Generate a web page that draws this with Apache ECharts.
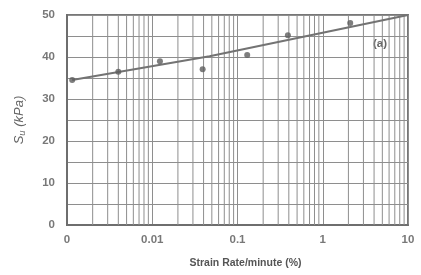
<!DOCTYPE html>
<html>
<head>
<meta charset="utf-8">
<script src="https://cdn.jsdelivr.net/npm/echarts@6/dist/echarts.min.js"></script>
<style>html,body{margin:0;padding:0;background:#fff}#c{width:421px;height:275px}</style>
</head>
<body>
<div id="c"></div>
<script>
// measured points: [strain rate (%/min), Su (kPa)]
const points = [[0.00115, 34.5], [0.004, 36.5], [0.0123, 39.0], [0.039, 37.1], [0.13, 40.5], [0.39, 45.2], [2.1, 48.1]];
// fitted trend line
const fitLine = [[0.00115, 34.5], [0.047, 40.2], [10, 50.0]];
const xTickLabels = {0.001: '0', 0.01: '0.01', 0.1: '0.1', 1: '1', 10: '10'};
const decades = [0.001, 0.01, 0.1, 1];
const minorMultipliers = [2, 3, 4, 5, 6, 7, 8, 9];
const yMin = 0, yMax = 50;

const gridSeries = [];
decades.forEach(d => {
  minorMultipliers.forEach(m => {
    const x = +(d * m).toPrecision(6);
    gridSeries.push({
      type: 'line', data: [[x, yMin], [x, yMax]], showSymbol: false, silent: true,
      lineStyle: {color: '#8e8e8e', width: 1}, z: 1, animation: false
    });
  });
});

const chart = echarts.init(document.getElementById('c'), null, {renderer: 'canvas'});
const labelFont = {color: '#787878', fontWeight: 'bold', fontSize: 11.5, fontFamily: 'Liberation Sans, Arial, sans-serif'};
chart.setOption({
  animation: false,
  grid: {left: 67, right: 13, top: 15, bottom: 50, show: true, borderColor: '#777', borderWidth: 2},
  xAxis: {
    type: 'log', logBase: 10, min: 0.001, max: 10,
    axisLine: {lineStyle: {color: '#6e6e6e', width: 2}},
    axisTick: {show: false},
    splitLine: {show: true, lineStyle: {color: '#8e8e8e', width: 1}},
    axisLabel: Object.assign({margin: 9, formatter: v => {
      for (const k in xTickLabels) { if (Math.abs(Math.log10(v) - Math.log10(+k)) < 1e-6) return xTickLabels[k]; }
      return '';
    }}, labelFont),
    name: 'Strain Rate/minute (%)', nameLocation: 'middle', nameGap: 33,
    nameTextStyle: {color: '#555', fontWeight: 'bold', fontSize: 10.5, fontFamily: 'Liberation Sans, Arial, sans-serif', padding: [0, 0, 0, 16]}
  },
  yAxis: {
    type: 'value', min: yMin, max: yMax, interval: 5,
    axisLine: {show: true, lineStyle: {color: '#6e6e6e', width: 2}},
    axisTick: {show: false},
    splitLine: {show: true, lineStyle: {color: '#8e8e8e', width: 1}},
    axisLabel: Object.assign({margin: 12, formatter: v => (v % 10 === 0 ? String(v) : '')}, labelFont),
    name: '{s|S}{u|u}{s| (kPa)}', nameLocation: 'middle', nameGap: 40, nameRotate: 90,
    nameTextStyle: {rich: {
      s: {color: '#666', fontStyle: 'italic', fontSize: 13, fontFamily: 'Liberation Sans, Arial, sans-serif'},
      u: {color: '#666', fontStyle: 'italic', fontSize: 9.5, verticalAlign: 'bottom', padding: [6, 0, 0, 0], fontFamily: 'Liberation Sans, Arial, sans-serif'}
    }}
  },
  series: gridSeries.concat([
    {
      type: 'line', data: fitLine, showSymbol: false, smooth: false,
      lineStyle: {color: '#737373', width: 2}, z: 3
    },
    {
      type: 'scatter', data: points, symbol: 'circle', symbolSize: 6,
      itemStyle: {color: '#5e5e5e'}, z: 4
    }
  ]),
  graphic: [
    {type: 'text', left: 373, top: 38, style: {text: '(a)', fill: '#666', font: 'bold 11.5px Liberation Sans, Arial, sans-serif'}}
  ]
});
</script>
</body>
</html>
